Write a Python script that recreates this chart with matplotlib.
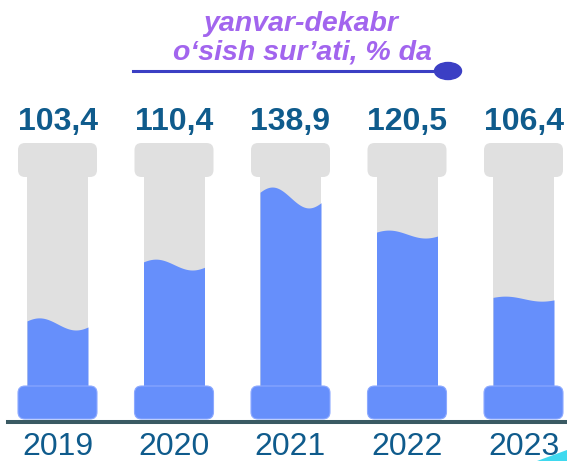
import matplotlib
matplotlib.use("Agg")
import matplotlib.pyplot as plt
from matplotlib.patches import FancyBboxPatch, Ellipse, Polygon
from matplotlib.lines import Line2D
import numpy as np

# ── data ──────────────────────────────────────────────────────────────────────
years = ["2019", "2020", "2021", "2022", "2023"]
values = [103.4, 110.4, 138.9, 120.5, 106.4]
labels = ["103,4", "110,4", "138,9", "120,5", "106,4"]
# fill level of each column (share of the shaft height) and its wave height
fill_level = [0.297, 0.581, 0.902, 0.727, 0.418]
wave_amp = [0.029, 0.026, 0.050, 0.019, 0.012]

GRAY = "#E0E0E0"
BLUE = "#668FFB"
EDGE = "#8CA9FF"
NAVY = "#0F5B8C"
PURPLE = "#A265EE"
LINE = "#3B3FC4"

W, H = 567, 461
fig = plt.figure(figsize=(W / 100, H / 100), dpi=100)

# layout in pixels: column spacing, shaft top / bottom
x0_px, dx_px = 57.5, 116.5
shaft_top, shaft_bot = 177, 386
unit_px = shaft_bot - shaft_top

ax = fig.add_axes([0, 0, 1, 1])
ax.set_xlim(-x0_px / dx_px, (W - x0_px) / dx_px)
ax.set_ylim(-(H - shaft_bot) / unit_px, 1 + shaft_top / unit_px)
ax.axis("off")

aspect = dx_px / unit_px
shaft_w = 61 / dx_px
cap_w = 79 / dx_px
cap_h = 34 / unit_px
base_h = 33 / unit_px
rnd = 7 / dx_px

for i, (lvl, amp) in enumerate(zip(fill_level, wave_amp)):
    # gray shaft and cap
    ax.add_patch(plt.Rectangle((i - shaft_w / 2, 0), shaft_w, 1, color=GRAY, lw=0, zorder=1))
    ax.add_patch(FancyBboxPatch((i - cap_w / 2, 1), cap_w, cap_h,
                                boxstyle=f"round,pad=0,rounding_size={rnd}",
                                mutation_aspect=aspect, fc=GRAY, ec="none", zorder=1))
    # wavy blue fill
    t = np.linspace(0, 1, 100)
    xs = i - shaft_w / 2 + t * shaft_w
    top = lvl + amp * np.cos(2 * np.pi * (t - 0.2) / 1.2)
    ax.fill_between(xs, 0, top, color=BLUE, lw=0, zorder=2)
    # base
    ax.add_patch(FancyBboxPatch((i - cap_w / 2, -base_h), cap_w, base_h,
                                boxstyle=f"round,pad=0,rounding_size={rnd}",
                                mutation_aspect=aspect, fc=BLUE, ec=EDGE, lw=0.8, zorder=3))
    ax.text(i, 1 + 55 / unit_px, labels[i], ha="center", va="center",
            fontsize=23, fontweight="bold", color=NAVY, family="Liberation Sans")
    ax.text(i, -61 / unit_px, years[i], ha="center", va="center",
            fontsize=23, color=NAVY, family="Liberation Sans")

# ground line
ax.axhline(-36 / unit_px, xmin=8 / W, xmax=1, color="#3A5A63", lw=2.9, zorder=4)

# title with underline and dot
fig.text(301 / W, 1 - 24 / H, "yanvar-dekabr", ha="center", va="center",
         fontsize=20.5, fontweight="bold", style="italic", color=PURPLE,
         family="Liberation Sans")
fig.text(302 / W, 1 - 53 / H, "o‘sish sur’ati, % da", ha="center", va="center",
         fontsize=20.5, fontweight="bold", style="italic", color=PURPLE,
         family="Liberation Sans")
fig.add_artist(Line2D([133 / W, 446 / W], [1 - 71 / H, 1 - 71 / H],
                      transform=fig.transFigure, color=LINE, lw=2.2))
fig.add_artist(Ellipse((448 / W, 1 - 71 / H), 27 / W, 17 / H,
                       transform=fig.transFigure, color=LINE))

# cyan corner decoration
fig.add_artist(Polygon([[537 / W, 0], [1, 11 / H], [1, 0]], closed=True,
                       transform=fig.transFigure, color="#3FD9EF", lw=0))

fig.savefig("out.png", dpi=100)
